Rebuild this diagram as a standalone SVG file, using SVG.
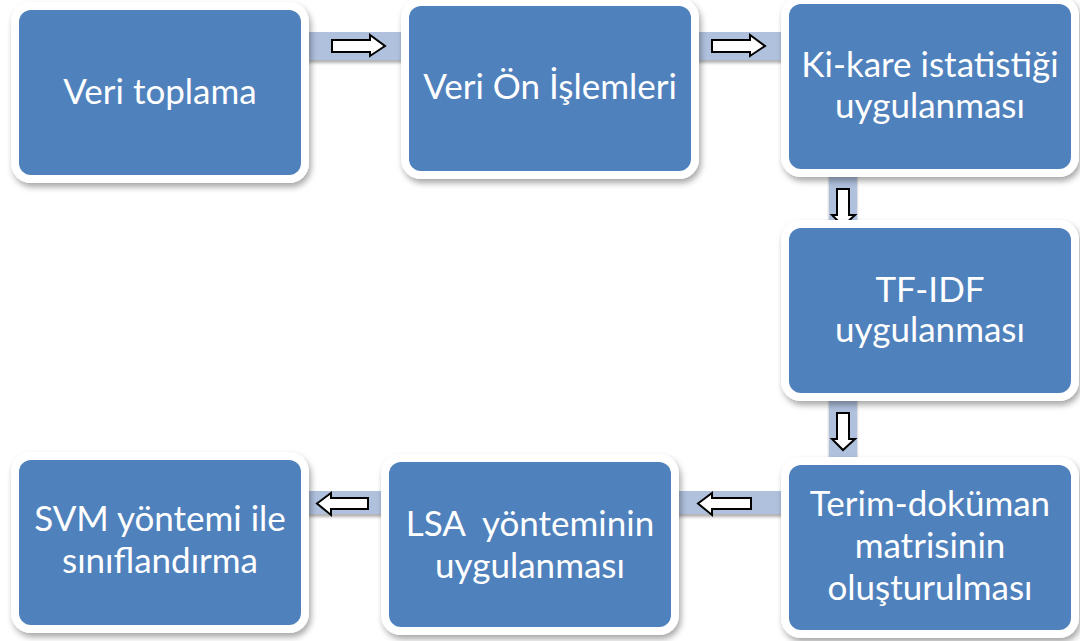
<svg xmlns="http://www.w3.org/2000/svg" width="1080" height="641" viewBox="0 0 1080 641">
  <defs>
    <filter id="shadow" x="-10%" y="-10%" width="125%" height="130%">
      <feDropShadow dx="2" dy="4" stdDeviation="3" flood-color="#000" flood-opacity="0.35"/>
    </filter>
    <filter id="bandShadow" x="-5%" y="-20%" width="110%" height="160%">
      <feDropShadow dx="0" dy="3" stdDeviation="1.5" flood-color="#000" flood-opacity="0.3"/>
    </filter>
  </defs>
  <style>
    .frame { fill: #ffffff; filter: url(#shadow); }
    .box { fill: #4f81bd; }
    .band { fill: #b0c1de; filter: url(#bandShadow); }
    .arrow { fill: #ffffff; stroke: #000000; stroke-width: 2; stroke-linejoin: miter; }
    .label { font-family: Lato, "Open Sans", "Liberation Sans", sans-serif; font-size: 35px; fill: #ffffff; text-anchor: middle; }
  </style>
  <rect width="1080" height="641" fill="#ffffff"/>

  <!-- connectors: light bands with block arrows -->
  <g id="connectors">
    <rect class="band" x="300" y="32" width="110" height="28"/>
    <rect class="band" x="690" y="32" width="100" height="28"/>
    <rect class="band" x="829" y="168" width="28" height="60"/>
    <rect class="band" x="829" y="392" width="28" height="74"/>
    <rect class="band" x="670" y="491" width="120" height="23"/>
    <rect class="band" x="300" y="491" width="90" height="23"/>
    <path class="arrow" d="M332,40 H370 V35 L385,46 L370,56 V52 H332 Z"/>
    <path class="arrow" d="M712,40 H750 V35 L765,46 L750,56 V52 H712 Z"/>
    <path class="arrow" d="M837,189 H849 V215 H855 L843,226 L832,215 H837 Z"/>
    <path class="arrow" d="M837,413 H849 V439 H855 L843,450 L832,439 H837 Z"/>
    <path class="arrow" d="M751,498 H712 V493 L698,503.5 L712,515 V509 H751 Z"/>
    <path class="arrow" d="M368,498 H331 V493 L317,503.5 L331,515 V509 H368 Z"/>
  </g>

  <g id="veri-toplama">
    <rect class="frame" x="11" y="2" width="298" height="181" rx="20"/>
    <rect class="box" x="19" y="10" width="282" height="165" rx="12"/>
    <text class="label" x="160" y="104">Veri toplama</text>
  </g>

  <g id="veri-on-islemleri">
    <rect class="frame" x="401" y="-2" width="298" height="181" rx="20"/>
    <rect class="box" x="409" y="6" width="282" height="165" rx="12"/>
    <text class="label" x="550" y="99">Veri Ön İşlemleri</text>
  </g>

  <g id="ki-kare">
    <rect class="frame" x="781" y="-4" width="298" height="181" rx="20"/>
    <rect class="box" x="789" y="4" width="282" height="165" rx="12"/>
    <text class="label" x="930" y="77">Ki-kare istatistiği</text>
    <text class="label" x="930" y="118">uygulanması</text>
  </g>

  <g id="tf-idf">
    <rect class="frame" x="781" y="220" width="298" height="181" rx="20"/>
    <rect class="box" x="789" y="228" width="282" height="165" rx="12"/>
    <text class="label" x="930" y="302">TF-IDF</text>
    <text class="label" x="930" y="342">uygulanması</text>
  </g>

  <g id="terim-dokuman">
    <rect class="frame" x="781" y="457" width="298" height="181" rx="20"/>
    <rect class="box" x="789" y="465" width="282" height="165" rx="12"/>
    <text class="label" x="930" y="516">Terim-doküman</text>
    <text class="label" x="930" y="558">matrisinin</text>
    <text class="label" x="930" y="600">oluşturulması</text>
  </g>

  <g id="lsa">
    <rect class="frame" x="381" y="454" width="298" height="181" rx="20"/>
    <rect class="box" x="389" y="462" width="282" height="165" rx="12"/>
    <text class="label" x="530" y="536" xml:space="preserve">LSA  yönteminin</text>
    <text class="label" x="530" y="578">uygulanması</text>
  </g>

  <g id="svm">
    <rect class="frame" x="11" y="452" width="298" height="181" rx="20"/>
    <rect class="box" x="19" y="460" width="282" height="165" rx="12"/>
    <text class="label" x="160" y="531">SVM yöntemi ile</text>
    <text class="label" x="160" y="573">sınıflandırma</text>
  </g>
</svg>
